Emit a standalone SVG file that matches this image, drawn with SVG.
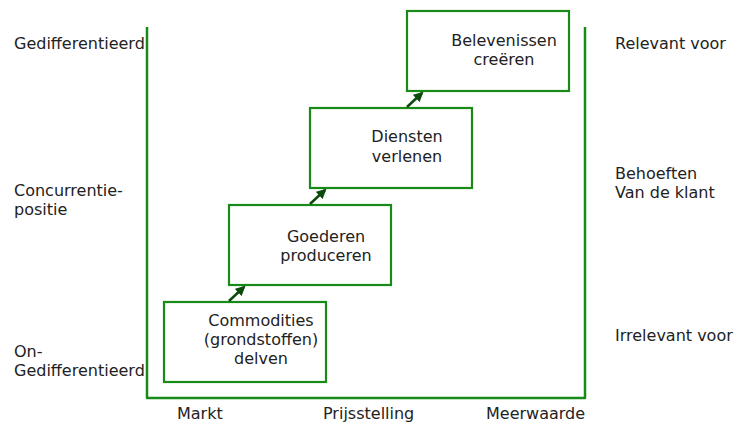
<svg xmlns="http://www.w3.org/2000/svg" width="739" height="424" viewBox="0 0 739 424">
  <style>
    text { font-family: "DejaVu Sans", Verdana, sans-serif; font-size: 16px; fill: #222222; }
    .box { fill: #ffffff; stroke: #178a17; stroke-width: 2.2; }
    .axis { fill: none; stroke: #178a17; stroke-width: 2.5; stroke-linejoin: round; }
    .arrow { fill: none; stroke: #0b4a0b; stroke-width: 2.5; marker-end: url(#head); }
    .mid { text-anchor: middle; }
  </style>
  <defs>
    <marker id="head" viewBox="0 0 10 10" refX="8" refY="5" markerWidth="4" markerHeight="4" orient="auto" markerUnits="strokeWidth">
      <path d="M0,0 L10,5 L0,10 z" fill="#0b4a0b"/>
    </marker>
  </defs>

  <rect width="739" height="424" fill="#ffffff"/>

  <!-- frame: left, bottom and right axes -->
  <path class="axis" d="M147,27 V398 H585 V27"/>

  <!-- left axis labels -->
  <text x="14" y="49">Gedifferentieerd</text>
  <text x="14" y="196">Concurrentie-</text>
  <text x="14" y="215">positie</text>
  <text x="14" y="357">On-</text>
  <text x="14" y="376">Gedifferentieerd</text>

  <!-- right axis labels -->
  <text x="615" y="49">Relevant voor</text>
  <text x="615" y="179">Behoeften</text>
  <text x="615" y="198">Van de klant</text>
  <text x="615" y="341">Irrelevant voor</text>

  <!-- bottom labels -->
  <text x="177" y="419">Markt</text>
  <text x="323" y="419">Prijsstelling</text>
  <text x="486" y="419">Meerwaarde</text>

  <!-- steps -->
  <g id="commodities">
    <rect class="box" x="164" y="302" width="162" height="80"/>
    <text class="mid" x="261" y="326">Commodities</text>
    <text class="mid" x="261" y="345">(grondstoffen)</text>
    <text class="mid" x="261" y="364">delven</text>
  </g>
  <g id="goederen">
    <rect class="box" x="229" y="205" width="162" height="80"/>
    <text class="mid" x="326" y="242">Goederen</text>
    <text class="mid" x="326" y="261">produceren</text>
  </g>
  <g id="diensten">
    <rect class="box" x="310" y="108" width="162" height="80"/>
    <text class="mid" x="407" y="142">Diensten</text>
    <text class="mid" x="407" y="162">verlenen</text>
  </g>
  <g id="belevenissen">
    <rect class="box" x="407" y="11" width="162" height="80"/>
    <text class="mid" x="504" y="46">Belevenissen</text>
    <text class="mid" x="504" y="65">creëren</text>
  </g>

  <!-- connectors between steps -->
  <g id="connectors">
    <line class="arrow" x1="229" y1="301" x2="244" y2="287"/>
    <line class="arrow" x1="310" y1="204" x2="325" y2="190"/>
    <line class="arrow" x1="407" y1="107" x2="422" y2="93"/>
  </g>
</svg>
